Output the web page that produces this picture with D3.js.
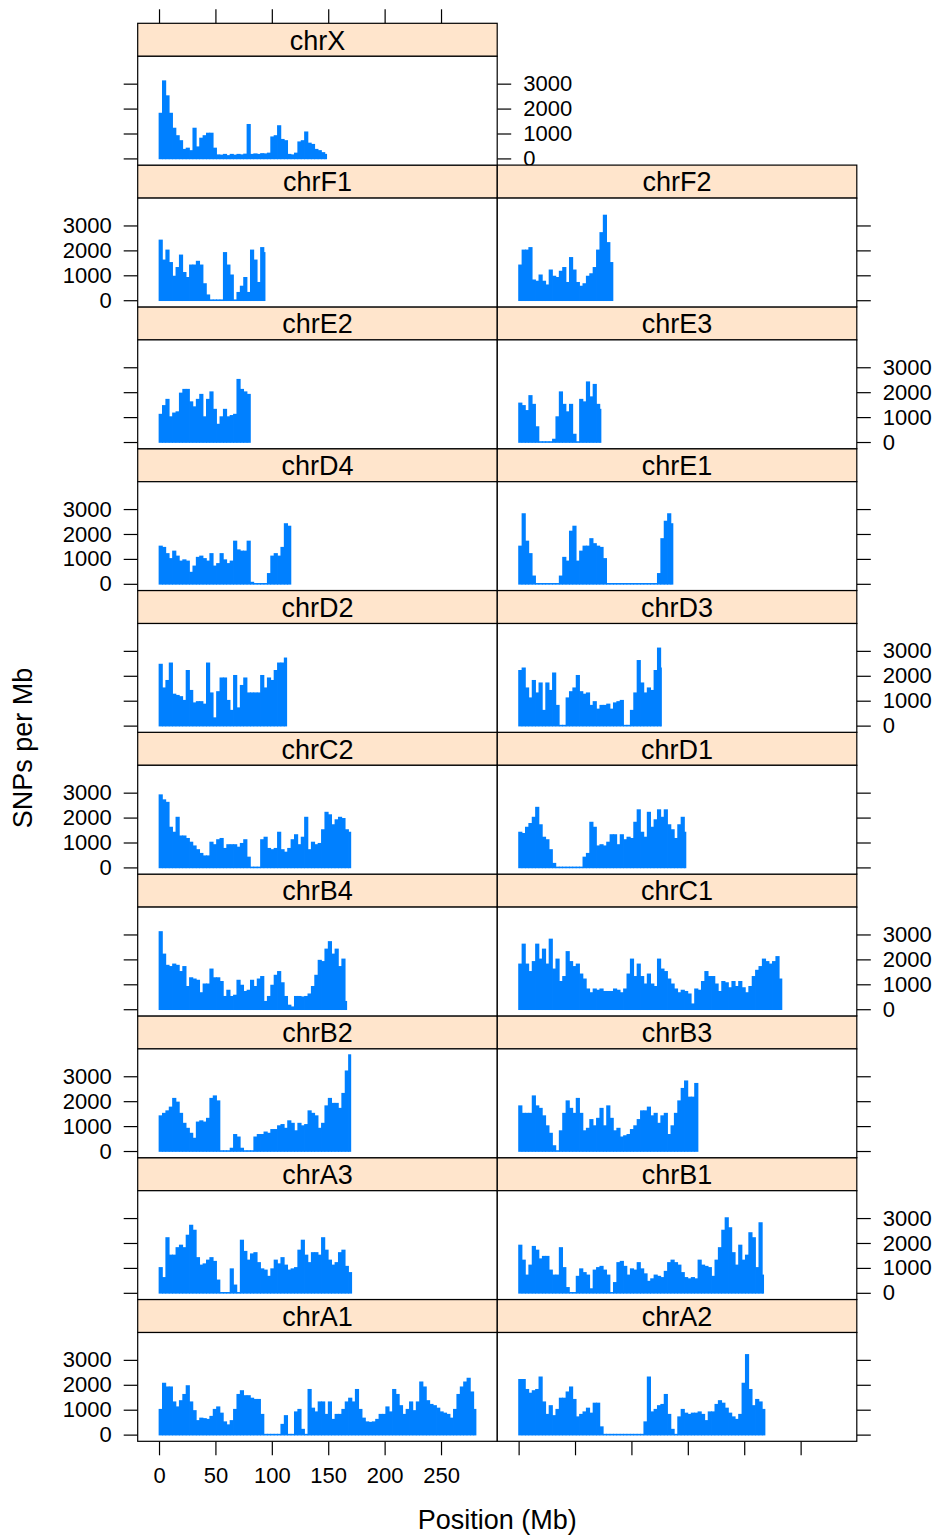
<!DOCTYPE html>
<html>
<head>
<meta charset="utf-8">
<script src="https://cdn.jsdelivr.net/npm/d3@7"></script>
<style>
  body { margin: 0; background: #fff; }
  svg text { font-family: "Liberation Sans", Arial, sans-serif; fill: #000; }
</style>
</head>
<body>
<div id="chart"></div>
<script>
// SNP density per chromosome, binned every 3 Mb (values are SNPs per Mb)
const binSize = 3

const chromNames = ['chrA1', 'chrA2', 'chrA3', 'chrB1', 'chrB2', 'chrB3', 'chrB4', 'chrC1', 'chrC2', 'chrD1',
                    'chrD2', 'chrD3', 'chrD4', 'chrE1', 'chrE2', 'chrE3', 'chrF1', 'chrF2', 'chrX']
// chromosome lengths in Mb
const chromLengths = [281, 218.4, 170.8, 217.2, 170, 159.2, 166.4, 233.4, 170, 148.3,
                      113.2, 126.6, 116.9, 136.8, 81.4, 73, 94, 83.6, 148.6]

const chrA1 = [1000,2050,1900,1900,1300,1100,1350,1600,1950,1300,950,550,650,630,600,720,1000,1100,850,500,380,550,1000,1600,1750,1550,1550,1450,1400,1400,800,0,0,0,0,0,400,750,0,0,900,1000,200,0,1800,1050,900,1300,1300,800,1300,600,800,800,1000,1300,1450,1300,1800,1000,650,500,480,500,600,800,800,1100,900,1800,1600,1150,800,1000,1300,950,1300,2100,1900,1350,1200,1150,1050,900,850,800,650,1000,1600,1900,2100,2250,1700,1000]
const chrA2 = [2200,2200,1800,1650,1750,1800,2300,1300,800,1150,750,1000,1450,1450,1700,1900,1400,700,800,900,1050,850,1250,1250,300,0,0,0,0,0,0,0,0,0,0,0,0,500,2300,900,1000,1150,1200,1600,800,200,0,700,1000,850,800,850,850,900,800,550,900,900,1200,1350,1250,1050,850,700,600,800,2050,3200,1800,1150,1400,1300,1000]
const chrA3 = [1000,600,2200,1500,1500,1800,1900,1800,2300,2700,2500,1400,1100,1150,1300,1400,1250,500,0,0,0,950,300,0,2100,1650,1300,1550,1600,1200,950,900,650,950,1300,1150,1400,1100,900,950,1000,1700,2100,1500,1200,1600,1600,1500,2200,1700,1300,1100,1200,1600,1700,1050,800]
const chrB1 = [1900,1300,700,1100,1850,1700,1350,1450,1450,900,700,700,1800,1000,200,0,0,650,950,800,700,150,900,1000,1050,900,700,0,400,1200,1250,1050,700,950,900,1200,950,750,450,550,700,650,600,850,1200,1300,1200,1100,800,600,550,600,550,1300,1100,1050,1000,650,1300,1800,2500,3000,2600,1600,1100,1900,1300,1500,2400,2200,1000,2800,700]
const chrB2 = [1400,1500,1600,1750,2100,1950,1500,1100,900,700,500,1150,1200,1150,1300,2100,2200,2000,0,0,0,100,650,550,100,0,0,0,550,650,650,750,700,850,850,1000,1050,900,1200,1100,800,1100,1000,1050,1600,1500,1400,900,1100,1800,2100,1900,1900,1700,2300,3200,3850]
const chrB3 = [1800,1500,1500,1500,2200,1800,1700,1400,1000,700,200,0,800,1500,2000,1700,1500,2100,1500,800,900,1250,1000,1300,1700,1000,1800,1300,800,900,550,600,650,850,1000,1250,1600,1600,1750,1400,1500,1100,1400,1500,650,1000,1500,2000,2500,2800,2150,2150,2700]
const chrB4 = [3100,2200,1750,1700,1800,1750,1500,1700,900,1250,1200,1150,650,1000,1000,1600,1250,1250,1100,500,750,500,550,1150,950,700,750,1150,900,1200,1300,300,500,950,1350,1500,1050,500,150,80,500,500,480,500,600,900,1350,1950,1900,2400,2700,2200,2400,1700,2000,300]
const chrC1 = [1800,2600,1800,1500,1900,2600,2000,2400,1800,2800,1600,2000,1100,1300,2300,1900,1700,1800,1400,1200,800,650,800,750,800,700,700,700,800,750,650,800,1400,2000,1300,1800,1300,1000,1400,1000,900,2000,1600,1500,1200,1000,800,650,750,700,600,200,800,750,1100,1500,1300,1300,1000,700,1100,1050,850,1100,900,1100,850,650,900,1300,1550,1700,2000,1900,1800,1900,2100,1200]
const chrC2 = [2900,2700,2600,1600,1400,2000,1250,1250,1150,1000,850,700,550,450,450,1000,900,1100,1150,750,900,900,900,800,950,1100,400,0,0,0,1100,1200,750,700,750,1400,700,600,750,1100,1300,900,1200,2000,700,1000,900,950,1500,2200,2100,1700,1900,2000,1950,1500,1400]
const chrD1 = [1400,1350,1600,1750,2000,2400,1700,1200,1100,700,150,0,0,0,0,0,0,0,0,400,550,1800,1600,850,900,850,1000,1300,1300,900,1300,1100,1200,1150,1800,2300,1400,1200,2200,1600,1900,2300,2000,2300,1700,1500,1150,1700,2000,1400]
const chrD2 = [2450,1500,1800,2500,1250,1200,1150,1000,2200,1400,900,950,950,850,2500,1300,300,1350,1900,1900,1000,600,2000,700,1600,1900,1300,1300,1300,1300,2000,1500,1900,1800,2200,2500,2500,2700]
const chrD3 = [2200,2300,1500,1100,1800,1300,1700,600,1700,1400,2100,800,0,0,1100,1350,1500,2000,1350,1250,1300,800,950,650,800,800,850,650,900,950,1000,0,0,600,1300,2600,1700,1300,1500,1400,2200,3100,2300]
const chrD4 = [1500,1450,1200,1000,1300,1100,900,950,900,450,700,1050,1100,1000,900,1200,700,800,1200,950,800,900,1700,1350,1300,1300,1700,50,0,0,0,0,400,1100,1200,1100,1450,2400,2300]
const chrE1 = [1500,2800,1700,1200,300,0,0,0,0,0,0,0,300,1050,900,2100,2300,900,1300,1500,1500,1800,1600,1500,1450,1000,0,0,0,0,0,0,0,0,0,0,0,0,0,0,0,400,1800,2500,2800,2400]
const chrE2 = [1100,1450,1700,1000,1150,1200,1950,2100,2100,1600,1400,1700,1900,1000,1700,2000,1300,700,1000,1300,1000,1050,1100,2500,2100,2000,1900]
const chrE3 = [1550,1450,1250,1850,1500,600,0,0,0,0,100,1000,2000,1500,1200,1500,300,0,1700,1600,2400,1800,2300,1500,1300]
const chrF1 = [2400,1600,2000,1500,950,1300,1800,1100,900,1400,1400,1550,1400,650,200,0,0,0,0,1900,1400,1000,0,300,550,900,300,2000,1600,700,2100,1900]
const chrF2 = [1400,2000,2000,2100,800,750,1000,750,600,1200,950,900,1150,1300,700,1700,1200,700,550,650,950,1050,1300,2000,2700,3400,2300,1500]
const chrX = [1800,3100,2500,1800,1200,900,700,350,400,300,1200,450,800,900,1000,1000,400,130,120,150,100,150,120,150,130,160,1350,150,170,150,180,170,200,850,900,1300,750,700,150,130,200,650,700,1050,600,550,350,300,220,150]

const yTicks = [0, 1000, 2000, 3000]
const xTicks = [0, 50, 100, 150, 200, 250]

const snpBins = { chrA1, chrA2, chrA3, chrB1, chrB2, chrB3, chrB4, chrC1, chrC2, chrD1,
                  chrD2, chrD3, chrD4, chrE1, chrE2, chrE3, chrF1, chrF2, chrX }

// page geometry (lattice-like 2 x 10 layout)
let chartWidth = 936
let chartHeight = 1539
let colX = [137.7, 497.3]
let panelW = 359.5
let topY = 23.3
let rowH = 141.8
let stripH = 33
let panelH = rowH - stripH
let nRows = 10
let tickLen = 14
let lineW = 1.2
let barPad = 0.8   // the original vertical lines have round caps, so bars sit slightly proud of 0

let x = d3.scaleLinear().domain([-18.9, 299.8]).range([0, panelW])
let y = d3.scaleLinear().domain([-268, 4098]).range([panelH, 0])
let fmt = d3.format('d')

let svg = d3.select('#chart')
            .append('svg')
            .attr('width', chartWidth)
            .attr('height', chartHeight)

svg.append('rect').attr('width', chartWidth).attr('height', chartHeight).attr('fill', '#fff')

const styleAxis = (g, size) => {
    g.select('.domain').remove()
    g.selectAll('line').attr('stroke', '#000').attr('stroke-width', lineW)
    g.selectAll('text').attr('font-size', size).attr('font-family', '"Liberation Sans", Arial, sans-serif').attr('fill', '#000')
}

// y axes: ticks on both sides of every row, labels alternate left/right
for (let r = 0; r < nRows; r++) {
    let fromBottom = nRows - 1 - r
    let labelLeft = fromBottom % 2 === 0
    let rightCol = r === 0 ? 0 : 1
    let py = topY + r * rowH + stripH

    let left = d3.axisLeft(y).tickValues(yTicks).tickSize(tickLen).tickPadding(12)
    left.tickFormat(labelLeft ? fmt : '')
    svg.append('g')
        .attr('transform', `translate(${colX[0]},${py})`)
        .call(left)
        .call(g => styleAxis(g, 22))

    let right = d3.axisRight(y).tickValues(yTicks).tickSize(tickLen).tickPadding(12)
    right.tickFormat(labelLeft ? '' : fmt)
    svg.append('g')
        .attr('transform', `translate(${colX[rightCol] + panelW},${py})`)
        .call(right)
        .call(g => styleAxis(g, 22))
}

// x axes: bottom row gets ticks under both columns, labels under the left one
for (let c = 0; c < 2; c++) {
    let bottom = d3.axisBottom(x).tickValues(xTicks).tickSize(tickLen).tickPadding(12)
    bottom.tickFormat(c === 0 ? fmt : '')
    svg.append('g')
        .attr('transform', `translate(${colX[c]},${topY + nRows * rowH})`)
        .call(bottom)
        .call(g => styleAxis(g, 22))
}
// top ticks above chrX
svg.append('g')
    .attr('transform', `translate(${colX[0]},${topY})`)
    .call(d3.axisTop(x).tickValues(xTicks).tickSize(tickLen).tickFormat(''))
    .call(g => styleAxis(g, 22))

// panels
chromNames.forEach((name, i) => {
    let col = i % 2
    let row = nRows - 1 - Math.floor(i / 2)
    let len = chromLengths[i]
    let values = snpBins[name]
    let bins = values.map((v, j) => ({
        start: j * binSize,
        end: Math.min((j + 1) * binSize, len),
        v: v
    }))

    let g = svg.append('g')
        .attr('transform', `translate(${colX[col]},${topY + row * rowH})`)

    // strip
    g.append('rect')
        .attr('width', panelW)
        .attr('height', stripH)
        .attr('fill', '#FFE5CC')
        .attr('stroke', '#000')
        .attr('stroke-width', lineW)
    g.append('text')
        .attr('x', panelW / 2)
        .attr('y', stripH / 2)
        .attr('dy', '0.36em')
        .attr('text-anchor', 'middle')
        .attr('font-size', 27)
        .text(name)

    let p = g.append('g').attr('transform', `translate(0,${stripH})`)
    p.append('rect')
        .attr('width', panelW)
        .attr('height', panelH)
        .attr('fill', '#fff')

    p.selectAll('rect.bar')
        .data(bins)
        .enter()
        .append('rect')
        .attr('class', 'bar')
        .attr('x', d => x(d.start) - 0.4)
        .attr('width', d => x(d.end) - x(d.start) + 0.8)
        .attr('y', d => y(d.v) - barPad)
        .attr('height', d => y(0) - y(d.v) + 2 * barPad)
        .attr('fill', '#0080FF')

    p.append('rect')
        .attr('width', panelW)
        .attr('height', panelH)
        .attr('fill', 'none')
        .attr('stroke', '#000')
        .attr('stroke-width', lineW)
})

// axis titles
svg.append('text')
    .attr('x', colX[0] + panelW)
    .attr('y', 1529)
    .attr('text-anchor', 'middle')
    .attr('font-size', 27)
    .text('Position (Mb)')

svg.append('text')
    .attr('transform', 'translate(32,748) rotate(-90)')
    .attr('text-anchor', 'middle')
    .attr('font-size', 27)
    .text('SNPs per Mb')
</script>
</body>
</html>
